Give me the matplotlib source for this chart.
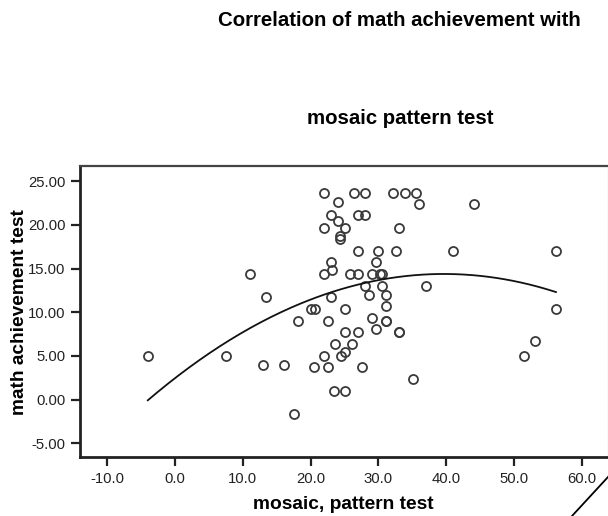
import numpy as np
import matplotlib
matplotlib.use("Agg")
import matplotlib.pyplot as plt
from matplotlib.lines import Line2D

plt.rcParams['font.family'] = ['Liberation Sans', 'DejaVu Sans']

# mosaic, pattern test (x) vs math achievement test (y)
mosaic = [
    -4.0, 7.5, 11.0, 13.5, 13.0, 16.1, 17.6, 18.1,
    20.1, 20.6, 22.6, 23.0, 25.1,
    22.0, 25.8, 27.0, 29.0, 30.2, 30.6,
    23.1, 23.0, 29.6,
    27.0, 30.0, 32.6, 41.0, 56.2,
    22.0, 25.1, 33.0,
    24.4, 24.4, 24.1,
    23.0, 27.0, 28.1,
    36.0, 44.1, 24.0,
    22.0, 26.4, 28.0, 32.1, 34.0, 35.6,
    28.0, 30.5, 37.1, 28.6, 31.1, 31.1, 29.1,
    31.1, 31.1, 25.1, 27.0, 29.6, 33.0, 33.0,
    23.6, 26.1, 22.0, 24.5, 25.1,
    20.5, 22.6, 27.6, 23.5, 25.1, 35.1,
    51.5, 53.1, 56.2,
]
math_ach = [
    5.0, 5.0, 14.4, 11.7, 4.0, 4.0, -1.6, 9.0,
    10.35, 10.35, 9.0, 11.7, 10.35,
    14.4, 14.4, 14.4, 14.4, 14.4, 14.4,
    14.8, 15.8, 15.8,
    17.05, 17.05, 17.05, 17.05, 17.05,
    19.7, 19.7, 19.7,
    18.7, 18.35, 20.4,
    21.1, 21.1, 21.1,
    22.35, 22.35, 22.65,
    23.7, 23.7, 23.7, 23.7, 23.7, 23.7,
    13.0, 13.0, 13.0, 12.0, 12.0, 10.7, 9.4,
    9.0, 9.0, 7.7, 7.7, 8.05, 7.75, 7.75,
    6.4, 6.4, 5.0, 5.0, 5.4,
    3.7, 3.7, 3.7, 1.0, 1.0, 2.4,
    5.0, 6.7, 10.4,
]

x_ticks = [-10, 0, 10, 20, 30, 40, 50, 60]
y_ticks = [-5, 0, 5, 10, 15, 20, 25]

title_line1 = "Correlation of math achievement with"
title_line2 = "mosaic pattern test"
x_label = "mosaic, pattern test"
y_label = "math achievement test"

fig = plt.figure(figsize=(6.08, 5.16), dpi=100)
ax = fig.add_axes([80/608, 1 - 457.3/516, (607.5 - 80)/608, (457.3 - 166)/516])

ax.plot(mosaic, math_ach, linestyle='none', marker='o', markersize=6.5,
        markerfacecolor='none', markeredgecolor='#3a3a3a', markeredgewidth=1.3)

# quadratic fit line
xs = np.asarray(mosaic)
ys = np.asarray(math_ach)
coef = np.polyfit(xs, ys, 2)
xx = np.linspace(xs.min(), xs.max(), 200)
ax.plot(xx, np.polyval(coef, xx), color='#111111', linewidth=1.3)

ax.set_xlim(-14.0, 63.8)
ax.set_ylim(-6.6, 26.75)
ax.set_xticks(x_ticks)
ax.set_xticklabels([f"{v:.1f}" for v in x_ticks])
ax.set_yticks(y_ticks)
ax.set_yticklabels([f"{v:.2f}" for v in y_ticks])
ax.tick_params(direction='out', length=6.5, width=1.6, color='#222222',
               labelsize=10.7, labelcolor='#222222', pad=4)

for side in ['left', 'bottom']:
    ax.spines[side].set_linewidth(2.0)
    ax.spines[side].set_color('#222222')
ax.spines['top'].set_linewidth(1.6)
ax.spines['top'].set_color('#444444')
ax.spines['right'].set_linewidth(0.8)
ax.spines['right'].set_color('#999999')

ax.set_xlabel(x_label, fontsize=13.8, fontweight='bold', labelpad=7)
ax.set_ylabel(y_label, fontsize=13.8, fontweight='bold', labelpad=0)

fig.text(399/608, 1 - 21/516, title_line1, ha='center', va='center',
         fontsize=14.7, fontweight='bold')
fig.text(400/608, 1 - 118/516, title_line2, ha='center', va='center',
         fontsize=14.7, fontweight='bold')

fig.add_artist(Line2D([608/608, 572/608], [1 - 477/516, 0.0],
                      transform=fig.transFigure, color='black', linewidth=1.3))

fig.savefig("out.png", dpi=100, facecolor='white')
